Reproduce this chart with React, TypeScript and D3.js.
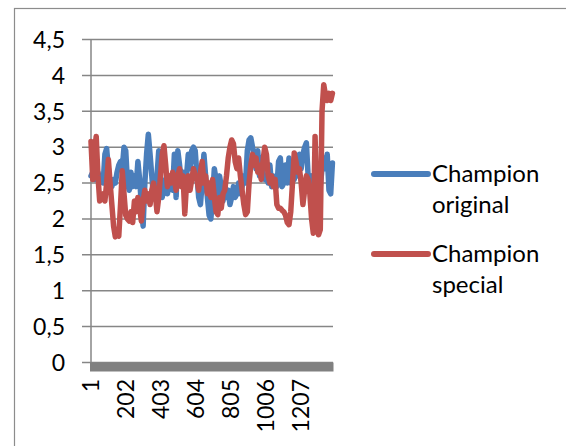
import React from "react";
import * as d3 from "d3";

// Sample step: each value is one sample every 10 categories, starting at category 1
const sampleStep = 10;
const categoryCount = 1400;
const tickLabels = [1, 202, 403, 604, 805, 1006, 1207];
const yTicks = [0, 0.5, 1, 1.5, 2, 2.5, 3, 3.5, 4, 4.5];
const seriesNames = ["Champion original", "Champion special"];

const championOriginal = [
  2.6, 2.65, 2.55, 2.6, 2.65, 2.55, 2.6, 2.5, 2.9, 2.98,
  2.7, 2.5, 2.45, 2.55, 2.5, 2.65, 2.75, 2.8, 2.7, 3.0,
  2.95, 2.5, 2.4, 2.65, 2.45, 2.6, 2.45, 2.8, 2.55, 2.2,
  1.9, 2.5, 2.9, 3.18, 2.9, 2.6, 2.3, 2.45, 2.6, 2.95,
  2.6, 2.3, 2.45, 2.55, 2.35, 2.5, 2.6, 2.4, 2.9, 2.3,
  2.95, 2.75, 2.5, 2.65, 2.45, 2.6, 2.9, 2.7, 2.95, 3.0,
  2.95, 2.6, 2.3, 2.2, 2.5, 2.9, 2.6, 2.3, 2.05, 2.0,
  2.3, 2.7, 2.55, 2.2, 2.6, 2.45, 2.25, 2.5, 2.3, 2.4,
  2.2, 2.3, 2.45, 2.3, 2.35, 2.5, 2.35, 2.45, 2.6, 2.5,
  2.95, 3.1, 3.13, 3.0, 2.85, 2.7, 2.95, 2.6, 2.85, 2.65,
  2.55, 2.6, 2.5, 2.75, 2.45, 2.6, 2.5, 2.45, 2.8, 2.85,
  2.45, 2.5, 2.75, 2.5, 2.85, 2.5, 2.8, 2.55, 2.85, 2.6,
  2.9, 2.7, 2.9, 3.0, 3.06, 2.6, 2.4, 2.6, 2.5, 2.4,
  2.7, 2.6, 2.45, 2.7, 2.85, 2.7, 2.9, 2.4, 2.35, 2.78,
];

const championSpecial = [
  3.08, 2.55, 2.95, 3.15, 2.6, 2.25, 2.3, 2.35, 2.25, 2.5,
  2.83, 2.5, 2.2, 1.9, 1.75, 1.8, 1.76, 2.2, 2.67, 2.35,
  2.05, 2.0, 1.97, 2.1, 1.95, 2.25, 2.1, 2.3, 2.15, 1.97,
  2.25, 2.4, 2.25, 2.35, 2.2, 2.4, 2.5, 2.35, 2.1, 2.3,
  2.6, 2.9, 3.02, 2.75, 2.45, 2.6, 2.5, 2.65, 2.55, 2.4,
  2.6, 2.7, 2.45, 2.6, 2.07, 2.5, 2.6, 2.4, 2.55, 2.7,
  2.6, 2.55, 2.4, 2.65, 2.8, 2.5, 2.6, 2.35, 2.5, 2.3,
  2.55, 2.3, 2.1, 2.06, 2.3, 2.15, 2.35, 2.4, 2.6, 2.85,
  3.0, 3.1, 3.05, 2.8, 2.7, 2.85, 2.6, 2.4, 2.2, 2.06,
  2.1, 2.5, 2.75, 2.9, 2.75, 2.85, 2.65, 2.75, 2.55, 2.8,
  3.0, 2.9, 2.6, 2.5, 2.6, 2.45, 2.55, 2.2, 2.15, 2.15,
  2.12, 2.1, 2.05, 1.95, 1.92, 2.1, 2.5, 2.92, 2.8, 2.65,
  2.7, 2.5, 2.2, 2.4, 2.6, 2.55, 2.35, 2.0, 1.8, 3.15,
  2.3, 1.78, 1.85, 3.5, 3.87, 3.72, 3.65, 3.75, 3.65, 3.75,
];

const colors = ["#4a7ebb", "#c0504d"];
const gridColor = "#868686";
const font = "Lato, 'Open Sans', sans-serif";

export default function App() {
  const x = d3.scaleLinear().domain([1, categoryCount]).range([91, 334]);
  const y = d3.scaleLinear().domain([0, 4.5]).range([362.5, 39.5]);

  const line = d3
    .line<number>()
    .x((_, i) => x(1 + i * sampleStep))
    .y((d) => y(d))
    .curve(d3.curveLinear);

  const series = [championOriginal, championSpecial];

  return (
    <svg
      width={566}
      height={446}
      style={{ position: "absolute", left: 0, top: 0, background: "#fff" }}
    >
      <rect x={14.5} y={8.5} width={600} height={500} fill="#fff" stroke="#8c8c8c" strokeWidth={1.2} />
      {yTicks.map((t) => (
        <line key={t} x1={82} x2={333} y1={y(t)} y2={y(t)} stroke={gridColor} strokeWidth={1.5} />
      ))}
      <line x1={91} x2={91} y1={y(4.5)} y2={y(0)} stroke={gridColor} strokeWidth={1.5} />
      {yTicks.map((t) => (
        <text
          key={"l" + t}
          x={65}
          y={y(t)}
          dy="0.36em"
          textAnchor="end"
          fontFamily={font}
          fontSize={23}
          fill="#000"
        >
          {String(t).replace(".", ",")}
        </text>
      ))}
      {series.map((s, k) => (
        <path
          key={k}
          d={line(s) || ""}
          fill="none"
          stroke={colors[k]}
          strokeWidth={5.5}
          strokeLinejoin="round"
          strokeLinecap="round"
        />
      ))}
      <line x1={90} x2={333.5} y1={367} y2={367} stroke="#808080" strokeWidth={9} />
      {tickLabels.map((t) => (
        <text
          key={"x" + t}
          transform={`translate(${x(t)},379) rotate(-90)`}
          dy="0.36em"
          textAnchor="end"
          fontFamily={font}
          fontSize={23}
          fill="#000"
        >
          {t}
        </text>
      ))}
      {seriesNames.map((name, k) => {
        const words = name.split(" ");
        const cy = 174 + k * 80;
        return (
          <g key={name}>
            <line x1={374} x2={428} y1={cy} y2={cy} stroke={colors[k]} strokeWidth={6} strokeLinecap="round" />
            <text x={432} y={cy + 8} fontFamily={font} fontSize={24} fill="#000">
              {words[0]}
            </text>
            <text x={432} y={cy + 39} fontFamily={font} fontSize={24} fill="#000">
              {words[1]}
            </text>
          </g>
        );
      })}
    </svg>
  );
}
